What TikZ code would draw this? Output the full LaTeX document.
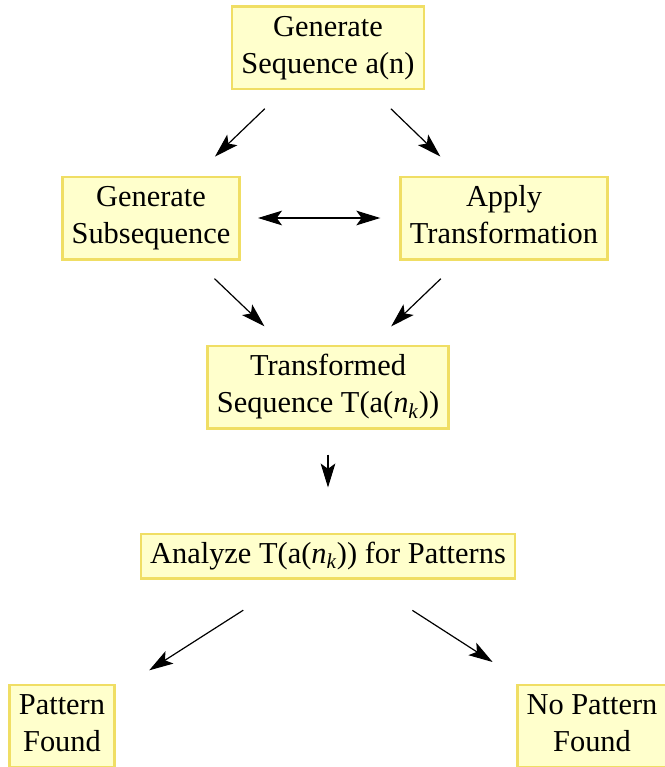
\documentclass[tikz,border=0pt]{standalone}
\usepackage{fontspec}
\setmainfont{Liberation Serif}
\usepackage{xcolor}
\usepackage{tikz}
\usetikzlibrary{arrows.meta, positioning}
\definecolor{boxfill}{RGB}{255,255,204}
\definecolor{boxline}{RGB}{240,222,100}

\begin{document}
\begin{tikzpicture}[
    >={Stealth[length=18pt, width=11pt, inset=4pt]},
    every node/.style={font=\fontsize{22.8}{27.6}\selectfont},
    block/.style={rectangle, draw=boxline, fill=boxfill, line width=2pt, inner xsep=7pt, minimum height=61.75pt, align=center, execute at end node={\rule[-0.22em]{0pt}{1pt}}},
    flat/.style={block, minimum height=33.25pt},
    arrow/.style={->, line width=0.9pt, black}
]
\useasboundingbox (-246pt,36pt) rectangle (252pt,-539.25pt);

\node[block] (gen) {Generate\\Sequence a(n)};
\node[block, below=63.75pt of gen, xshift=-132.75pt] (sub) {Generate\\Subsequence};
\node[block, below=63.75pt of gen, xshift=132pt] (apply) {Apply\\Transformation};
\node[block, below=190.5pt of gen] (trans) {Transformed\\Sequence T(a(\textit{n}\textsubscript{\textit{k}}))};
\node[flat, below=77.25pt of trans] (analyze) {Analyze T(a(\textit{n}\textsubscript{\textit{k}})) for Patterns};
\node[block, below=78pt of analyze, xshift=-199.5pt] (found) {Pattern\\Found};
\node[block, below=78pt of analyze, xshift=198pt] (nofound) {No Pattern\\Found};

\draw[arrow, shorten <=19.7pt, shorten >=20.5pt] (gen) -- (sub);
\draw[arrow, shorten <=19.7pt, shorten >=20.5pt] (gen) -- (apply);
\draw[arrow, <->, shorten <=12.75pt, shorten >=14.25pt] (sub) -- (apply);
\draw[arrow, shorten <=19.7pt, shorten >=19.7pt] (sub) -- (trans);
\draw[arrow, shorten <=19.7pt, shorten >=19.7pt] (apply) -- (trans);
\draw[arrow, shorten <=18.75pt, shorten >=33.75pt] (trans) -- (analyze);
\draw[arrow, shorten <=42.75pt, shorten >=29.8pt] (analyze) -- (found);
\draw[arrow, shorten <=42.75pt, shorten >=29.8pt] (analyze) -- (nofound);

\end{tikzpicture}
\end{document}
